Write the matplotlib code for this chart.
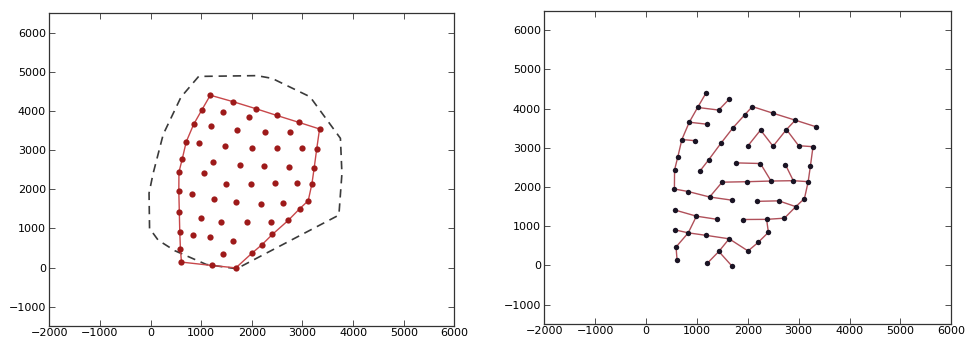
import matplotlib
matplotlib.use('Agg')
import matplotlib.pyplot as plt

# point cloud shared by both panels (x, y)
xs = [1180, 1630, 1015, 1428, 2090, 1936, 2495, 2934, 3338, 850,
      1200, 1713, 2251, 2760, 705, 965, 1470, 2005, 2497, 3000,
      3282, 626, 1231, 1769, 2248, 2740, 3232, 561, 1057, 1496,
      1982, 2458, 2895, 3187, 558, 827, 1250, 1690, 2176, 2609,
      3114, 2944, 568, 991, 1401, 1913, 2370, 2720, 577, 830,
      1175, 1634, 2405, 2202, 2005, 1431, 590, 610, 1204, 1684]
ys = [4400, 4235, 4030, 3963, 4052, 3836, 3883, 3705, 3538, 3653,
      3602, 3517, 3453, 3466, 3212, 3182, 3113, 3054, 3041, 3054,
      3029, 2774, 2693, 2616, 2600, 2570, 2545, 2438, 2404, 2124,
      2136, 2153, 2162, 2137, 1950, 1886, 1746, 1665, 1635, 1648,
      1707, 1500, 1414, 1257, 1176, 1172, 1176, 1206, 905, 832,
      769, 680, 845, 586, 370, 357, 471, 140, 55, -8]

# boundary through the outer points (indices into xs/ys)
hull = [0, 1, 4, 6, 7, 8, 20, 26, 33, 40, 41, 47, 52, 53, 54, 59, 58,
        57, 56, 48, 42, 34, 27, 21, 14, 9, 2, 0]

# buffered outline (dashed)
outer_x = [-20, -30, 50, 250, 600, 950, 2100, 2400, 3150, 3750, 3780,
           3720, 1700, 1100, 480, 150, -20]
outer_y = [1000, 1900, 2400, 3400, 4350, 4880, 4900, 4830, 4360, 3300,
           2400, 1340, -30, 80, 430, 700, 1000]

# spanning tree edges
edges = [(0, 2), (2, 9), (9, 14), (14, 21), (21, 27), (27, 34),
         (2, 3), (3, 1), (9, 10), (14, 15),
         (28, 22), (22, 16), (16, 11), (11, 5), (5, 4), (4, 6), (6, 7), (7, 8),
         (7, 13), (17, 12), (12, 18), (18, 13),
         (13, 19), (19, 20), (20, 26), (26, 33),
         (23, 24), (24, 31), (25, 32),
         (29, 30), (30, 31), (31, 32), (32, 33), (29, 36),
         (34, 35), (35, 36), (36, 37),
         (33, 40), (40, 41), (38, 39), (39, 41),
         (41, 47), (47, 46), (46, 45),
         (46, 52), (52, 53), (53, 54), (54, 51),
         (42, 43), (43, 44), (43, 49),
         (48, 49), (49, 50), (50, 51),
         (49, 56), (56, 57),
         (51, 55), (55, 58), (55, 59)]

XLIM = (-2000, 6000)
YLIM = (-1500, 6500)


def style_axes(ax):
    ax.set_xlim(*XLIM)
    ax.set_ylim(*YLIM)
    ax.set_xticks(range(-2000, 6001, 1000))
    ax.set_yticks(range(-1000, 6001, 1000))
    ax.tick_params(direction='in', top=True, right=True, length=4,
                   width=0.6, labelsize=8, color='#333333', pad=2.5)
    ax.tick_params(axis='x', pad=1.5)
    for s in ax.spines.values():
        s.set_color('#333333')
        s.set_linewidth(0.9)


fig = plt.figure(figsize=(9.65, 3.41), dpi=100)
ax1 = fig.add_axes([0.0511, 0.043, 0.4197, 0.919])
ax2 = fig.add_axes([0.564, 0.049, 0.4218, 0.92])

# left: outline + hull + points
ax1.plot(outer_x, outer_y, color='#3a3a3a', linewidth=1.2,
         linestyle=(0, (5, 3.5)))
ax1.plot([xs[i] for i in hull], [ys[i] for i in hull],
         color='#c8474a', linewidth=1.0)
ax1.plot(xs, ys, 'o', color='#9e1a1a', markersize=4.5, markeredgewidth=0,
         zorder=3)
style_axes(ax1)

# right: spanning tree
for a, b in edges:
    ax2.plot([xs[a], xs[b]], [ys[a], ys[b]], color='#b0505a', linewidth=1.0)
ax2.plot(xs, ys, 'o', color='#1a1424', markersize=3.9, markeredgewidth=0,
         zorder=3)
style_axes(ax2)

fig.savefig('out.png', dpi=100)
